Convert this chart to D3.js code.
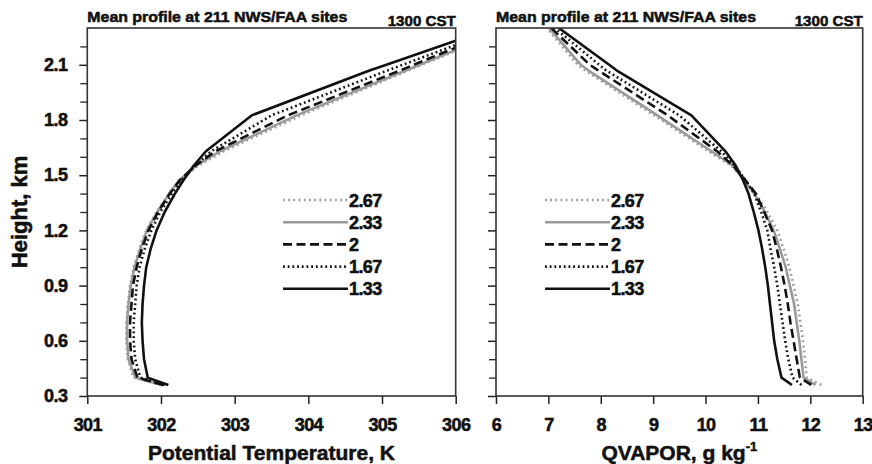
<!DOCTYPE html>
<html><head><meta charset="utf-8">
<script src="https://cdn.jsdelivr.net/npm/d3@7"></script>
<style>
body{margin:0;background:#fff}
text{font-family:"Liberation Sans",Arial,Helvetica,sans-serif;font-weight:bold;fill:#111;stroke:#111;stroke-width:0.55px;stroke-linejoin:round}
</style>
</head><body>
<svg id="c" width="872" height="464"></svg>
<script>
// ---- data ----
const heights = [0.36, 0.40, 0.5, 0.6, 0.7, 0.8, 0.9, 1.0, 1.1, 1.2, 1.3, 1.4, 1.47, 1.55, 1.63, 1.825, 2.07, 2.10, 2.35];
const seriesNames = ["2.67", "2.33", "2", "1.67", "1.33"];

const theta_267 = [302.00, 301.63, 301.55, 301.53, 301.53, 301.55, 301.58, 301.63, 301.71, 301.80, 301.94, 302.11, 302.25, 302.50, 302.85, 303.90, 305.36, 305.54, 307.06];
const theta_233 = [302.01, 301.65, 301.56, 301.54, 301.54, 301.56, 301.59, 301.64, 301.72, 301.81, 301.95, 302.11, 302.24, 302.47, 302.80, 303.84, 305.33, 305.51, 307.03];
const theta_200 = [302.03, 301.68, 301.60, 301.58, 301.58, 301.60, 301.62, 301.67, 301.74, 301.83, 301.96, 302.12, 302.25, 302.46, 302.74, 303.72, 305.25, 305.43, 306.96];
const theta_167 = [302.05, 301.72, 301.65, 301.63, 301.63, 301.65, 301.67, 301.71, 301.78, 301.87, 301.99, 302.15, 302.27, 302.46, 302.68, 303.50, 305.08, 305.28, 306.95];
const theta_133 = [302.10, 301.82, 301.77, 301.75, 301.74, 301.75, 301.77, 301.80, 301.86, 301.94, 302.05, 302.19, 302.30, 302.44, 302.61, 303.23, 304.84, 305.06, 306.85];

const qv_267 = [12.21, 11.93, 11.90, 11.86, 11.81, 11.76, 11.68, 11.60, 11.49, 11.37, 11.18, 10.96, 10.75, 10.50, 10.06, 9.02, 7.70, 7.56, 6.82];
const qv_233 = [12.10, 11.87, 11.83, 11.79, 11.74, 11.69, 11.61, 11.53, 11.42, 11.30, 11.13, 10.93, 10.74, 10.53, 10.11, 9.08, 7.76, 7.62, 6.86];
const qv_200 = [12.02, 11.80, 11.74, 11.68, 11.62, 11.57, 11.51, 11.44, 11.36, 11.27, 11.12, 10.96, 10.77, 10.53, 10.22, 9.28, 7.95, 7.79, 6.87];
const qv_167 = [11.83, 11.66, 11.58, 11.52, 11.47, 11.42, 11.37, 11.31, 11.24, 11.18, 11.06, 10.93, 10.77, 10.56, 10.30, 9.50, 8.10, 7.97, 6.91];
const qv_133 = [11.65, 11.45, 11.37, 11.31, 11.27, 11.23, 11.19, 11.14, 11.08, 11.01, 10.92, 10.82, 10.72, 10.58, 10.38, 9.73, 8.30, 8.16, 6.96];

const thetaTicks = [301, 302, 303, 304, 305, 306];
const qvTicks = [6, 7, 8, 9, 10, 11, 12, 13];
const heightTicks = [0.3, 0.6, 0.9, 1.2, 1.5, 1.8, 2.1];
const heightMinorTicks = [0.4, 0.5, 0.7, 0.8, 1.0, 1.1, 1.3, 1.4, 1.6, 1.7, 1.9, 2.0, 2.2];
const panelTitle = "Mean profile at 211 NWS/FAA sites";
const timeLabel = "1300 CST";

// ---- styles ----
const styles = {
  "2.67": {color: "#9a9a9a", dash: "1.8,3.4"},
  "2.33": {color: "#9a9a9a", dash: null},
  "2":    {color: "#111", dash: "9,4.5"},
  "1.67": {color: "#111", dash: "1.8,2.9"},
  "1.33": {color: "#111", dash: null}
};
const drawOrder = ["2.33", "2.67", "2", "1.67", "1.33"];

const svg = d3.select("#c");
const yTop = 28, yBot = 396;
const y = d3.scaleLinear().domain([0.3, 2.3]).range([yBot, yTop]);

const panels = [
  {id: "L", x0: 87.3, x1: 455.7, domain: [301, 306], ticks: thetaTicks,
   vals: {"2.67": theta_267, "2.33": theta_233, "2": theta_200, "1.67": theta_167, "1.33": theta_133},
   xlabel: "Potential Temperature, K", ylabels: true, legendX: 283},
  {id: "R", x0: 496, x1: 862.7, domain: [6, 13], ticks: qvTicks,
   vals: {"2.67": qv_267, "2.33": qv_233, "2": qv_200, "1.67": qv_167, "1.33": qv_133},
   xlabel: "QVAPOR, g kg", ylabels: false, legendX: 545}
];

panels.forEach(p => {
  const x = d3.scaleLinear().domain(p.domain).range([p.x0, p.x1]);
  const g = svg.append("g");

  g.append("clipPath").attr("id", "clip" + p.id).append("rect")
    .attr("x", p.x0).attr("y", yTop).attr("width", p.x1 - p.x0).attr("height", yBot - yTop);

  // lines
  const line = d3.line().x(d => x(d[0])).y(d => y(d[1]));
  drawOrder.forEach(name => {
    const data = p.vals[name].map((v, i) => [v, heights[i]]);
    g.append("path").attr("clip-path", "url(#clip" + p.id + ")")
      .attr("d", line(data)).attr("fill", "none")
      .attr("stroke", styles[name].color).attr("stroke-width", 2.6)
      .attr("stroke-dasharray", styles[name].dash)
      .attr("stroke-linejoin", "round");
  });

  // x axis
  const xa = g.append("g").attr("transform", `translate(0,${yBot})`)
    .call(d3.axisBottom(x).tickValues(p.ticks).tickSize(8).tickSizeOuter(0).tickPadding(14).tickFormat(d3.format("d")));
  xa.select(".domain").remove();
  xa.selectAll("line").attr("stroke", "#222").attr("stroke-width", 1.5);
  xa.selectAll("text").style("font-size", "18px").style("letter-spacing", "-0.6px").attr("fill", "#111");

  // y axis major
  const ya = g.append("g").attr("transform", `translate(${p.x0},0)`)
    .call(d3.axisLeft(y).tickValues(heightTicks).tickSize(8).tickSizeOuter(0).tickPadding(12)
      .tickFormat(p.ylabels ? d3.format(".1f") : () => ""));
  ya.select(".domain").remove();
  ya.selectAll("line").attr("stroke", "#222").attr("stroke-width", 1.5);
  ya.selectAll("text").style("font-size", "18px").style("letter-spacing", "-0.6px").attr("fill", "#111");
  // y minor
  const ym = g.append("g").attr("transform", `translate(${p.x0},0)`)
    .call(d3.axisLeft(y).tickValues(heightMinorTicks).tickSize(7).tickSizeOuter(0).tickFormat(() => ""));
  ym.select(".domain").remove();
  ym.selectAll("line").attr("stroke", "#222").attr("stroke-width", 1.3);

  // frame
  g.append("rect").attr("x", p.x0).attr("y", yTop).attr("width", p.x1 - p.x0).attr("height", yBot - yTop)
    .attr("fill", "none").attr("stroke", "#333").attr("stroke-width", 1.6);

  // titles
  g.append("text").attr("x", p.x0).attr("y", 22).style("font-size", "15px")
    .attr("textLength", 260).attr("lengthAdjust", "spacingAndGlyphs").text(panelTitle);
  g.append("text").attr("x", p.x1 - 68).attr("y", 26).style("font-size", "15px")
    .attr("textLength", 68).attr("lengthAdjust", "spacingAndGlyphs").text(timeLabel);

  // x label
  const xl = g.append("text").attr("x", (p.x0 + p.x1) / 2).attr("y", 460)
    .attr("text-anchor", "middle").style("font-size", "21px").text(p.xlabel);
  if (p.id === "R") {
    xl.append("tspan").attr("dy", -9).style("font-size", "13px").text("-1");
  }

  // legend
  seriesNames.forEach((name, i) => {
    const ly = 200 + i * 22.2;
    g.append("line").attr("x1", p.legendX).attr("x2", p.legendX + 65)
      .attr("y1", ly).attr("y2", ly)
      .attr("stroke", styles[name].color).attr("stroke-width", 2.6)
      .attr("stroke-dasharray", styles[name].dash);
    g.append("text").attr("x", p.legendX + 66).attr("y", ly + 6.5)
      .style("font-size", "18px").style("letter-spacing", "-0.6px").text(name);
  });
});

// y label
svg.append("text").attr("transform", "translate(27,212) rotate(-90)")
  .attr("text-anchor", "middle").style("font-size", "22px").text("Height, km");
</script>
</body></html>
